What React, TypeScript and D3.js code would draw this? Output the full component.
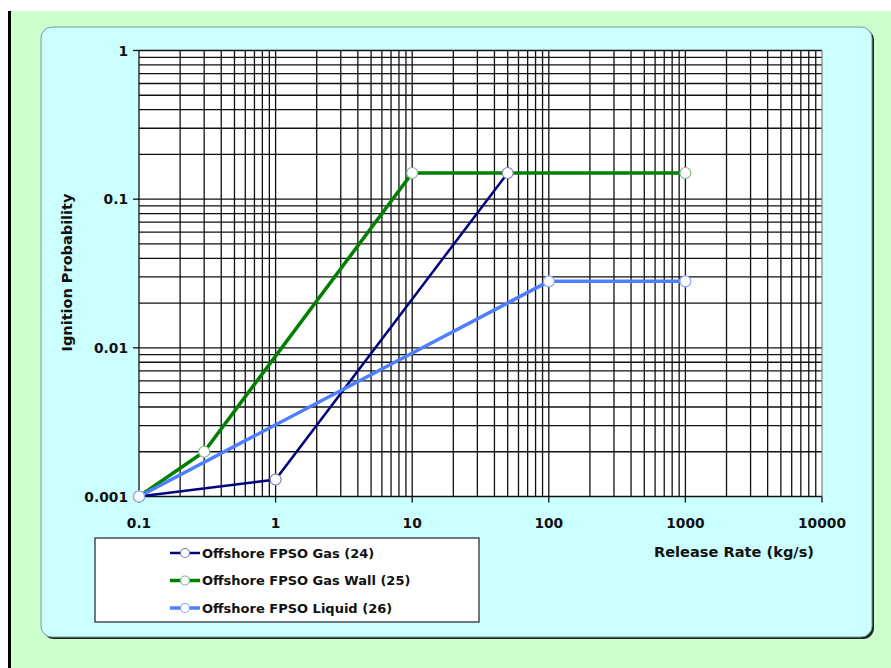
import React from "react";
import * as d3 from "d3";

const width = 891;
const height = 668;
const margin = { top: 50.5, right: 69, bottom: 171.5, left: 139 };
const innerWidth = width - margin.left - margin.right;
const innerHeight = height - margin.top - margin.bottom;

// series (release rate kg/s, ignition probability)
const gasX = [0.1, 1, 50];
const gasY = [0.001, 0.0013, 0.15];
const gasWallX = [0.1, 0.3, 10, 1000];
const gasWallY = [0.001, 0.002, 0.15, 0.15];
const liquidX = [0.1, 100, 1000];
const liquidY = [0.001, 0.028, 0.028];

const seriesNames = [
  "Offshore FPSO Gas (24)",
  "Offshore FPSO Gas Wall (25)",
  "Offshore FPSO Liquid (26)",
];
const seriesColors = ["#000080", "#008000", "#4d7fff"];
const markerStroke = ["#8080b8", "#7fb88f", "#8fa8ff"];

const xTicks = [0.1, 1, 10, 100, 1000, 10000];
const xTickLabels = ["0.1", "1", "10", "100", "1000", "10000"];
const yTicks = [0.001, 0.01, 0.1, 1];
const yTickLabels = ["0.001", "0.01", "0.1", "1"];

const font = "'DejaVu Sans', sans-serif";

const xScale = d3.scaleLog().domain([0.1, 10000]).range([0, innerWidth]);
const yScale = d3.scaleLog().domain([0.001, 1]).range([innerHeight, 0]);

// minor grid values: 1..9 per decade
const gridVals = (lo: number, hi: number) => {
  const out: number[] = [];
  for (let e = Math.log10(lo); e < Math.log10(hi); e++) {
    for (let m = 1; m < 10; m++) out.push(m * Math.pow(10, e));
  }
  out.push(hi);
  return out;
};
const xGrid = gridVals(0.1, 10000);
const yGrid = gridVals(0.001, 1);

const series = [
  { name: seriesNames[0], xs: gasX, ys: gasY, color: seriesColors[0], ms: markerStroke[0], w: 2.5 },
  { name: seriesNames[1], xs: gasWallX, ys: gasWallY, color: seriesColors[1], ms: markerStroke[1], w: 3.5 },
  { name: seriesNames[2], xs: liquidX, ys: liquidY, color: seriesColors[2], ms: markerStroke[2], w: 3.5 },
];

const line = d3
  .line<[number, number]>()
  .x((d) => xScale(d[0]))
  .y((d) => yScale(d[1]));

export default function App() {
  return (
    <svg
      width={width}
      height={height}
      style={{ position: "absolute", left: 0, top: 0, display: "block" }}
    >
      <rect x={0} y={0} width={width} height={height} fill="#ffffff" />
      <rect x={11} y={11} width={width - 11} height={height - 11} fill="#ccffcc" />
      <rect x={8} y={11} width={3} height={height - 11} fill="#000" />
      {/* panel with shadow */}
      <rect x={43} y={29} width={831} height={610} rx={11} fill="#222" />
      <rect x={41} y={27} width={831} height={610} rx={11} fill="#ccffff" stroke="#7a9a9a" strokeWidth={1} />

      <g transform={`translate(${margin.left}, ${margin.top})`}>
        <rect x={0} y={0} width={innerWidth} height={innerHeight} fill="#fff" />
        {yGrid.map((v, i) => (
          <line key={"yg" + i} x1={0} x2={innerWidth} y1={yScale(v)} y2={yScale(v)} stroke="#111" strokeWidth={1.3} />
        ))}
        {xGrid.map((v, i) => (
          <line
            key={"xg" + i}
            x1={xScale(v)}
            x2={xScale(v)}
            y1={0}
            y2={innerHeight}
            stroke={i === xGrid.length - 1 ? "#888" : "#111"}
            strokeWidth={1.3}
          />
        ))}
        {yTicks.map((v, i) => (
          <g key={"yt" + i} transform={`translate(0,${yScale(v)})`}>
            <line x1={-6} x2={0} stroke="#111" strokeWidth={1.3} />
            <text
              x={-11}
              dy=".38em"
              textAnchor="end"
              fontFamily={font}
              fontWeight="bold"
              fontSize={13.8}
              fill="#111"
            >
              {yTickLabels[i]}
            </text>
          </g>
        ))}
        {xTicks.map((v, i) => (
          <g key={"xt" + i} transform={`translate(${xScale(v)},${innerHeight})`}>
            <line y1={0} y2={6} stroke="#111" strokeWidth={1.3} />
            <text
              y={31}
              textAnchor="middle"
              fontFamily={font}
              fontWeight="bold"
              fontSize={13.8}
              fill="#111"
            >
              {xTickLabels[i]}
            </text>
          </g>
        ))}

        {series.map((s, si) => {
          const pts = s.xs.map((x, i) => [x, s.ys[i]] as [number, number]);
          return (
            <g key={"s" + si}>
              <path d={line(pts) || ""} fill="none" stroke={s.color} strokeWidth={s.w} />
            </g>
          );
        })}
        {series.map((s, si) =>
          s.xs.map((x, i) => (
            <circle
              key={`m${si}-${i}`}
              cx={xScale(x)}
              cy={yScale(s.ys[i])}
              r={5.5}
              fill="#fff"
              stroke={s.ms}
              strokeWidth={1.2}
            />
          ))
        )}
      </g>

      <text
        transform={`translate(72, ${margin.top + innerHeight / 2 - 1}) rotate(-90)`}
        textAnchor="middle"
        fontFamily={font}
        fontWeight="bold"
        fontSize={14.5}
        fill="#111"
      >
        Ignition Probability
      </text>
      <text
        x={734}
        y={557}
        textAnchor="middle"
        fontFamily={font}
        fontWeight="bold"
        fontSize={14.6}
        fill="#111"
      >
        Release Rate (kg/s)
      </text>

      {/* legend */}
      <g>
        <rect x={95} y={538} width={384} height={84} fill="#fff" stroke="#222" strokeWidth={1.2} />
        {series.map((s, i) => {
          const cy = 553 + i * 27.5;
          return (
            <g key={"lg" + i}>
              <line x1={170} x2={200} y1={cy} y2={cy} stroke={s.color} strokeWidth={s.w} />
              <circle cx={185} cy={cy} r={4.5} fill="#fff" stroke={s.ms} strokeWidth={1.2} />
              <text
                x={202}
                y={cy}
                dy=".36em"
                fontFamily={font}
                fontWeight="bold"
                fontSize={13}
                fill="#111"
              >
                {s.name}
              </text>
            </g>
          );
        })}
      </g>
    </svg>
  );
}
